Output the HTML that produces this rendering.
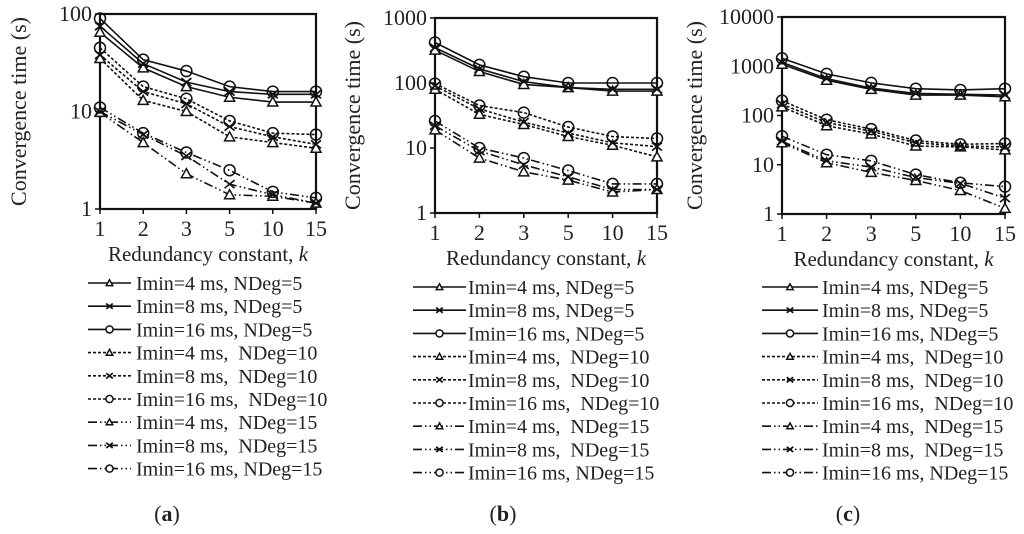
<!DOCTYPE html>
<html><head><meta charset="utf-8"><style>
body{margin:0;background:#fff;width:1024px;height:529px;overflow:hidden}
svg, svg text{font-family:"Liberation Serif","Times New Roman",serif;}
</style></head><body>
<svg id="fig" width="1024" height="529"></svg>
<script>
const categories=["1","2","3","5","10","15"];
const seriesNames=["Imin=4 ms, NDeg=5","Imin=8 ms, NDeg=5","Imin=16 ms, NDeg=5","Imin=4 ms,  NDeg=10","Imin=8 ms,  NDeg=10","Imin=16 ms,  NDeg=10","Imin=4 ms,  NDeg=15","Imin=8 ms,  NDeg=15","Imin=16 ms, NDeg=15"];
const panelA=[[65,28,18,14,12.5,12.5],[75,31,20,16,15,15],[90,34,26,18,16,16],[35,13,10,5.5,4.8,4.2],[38,16,12,7,5.5,4.6],[45,18,13.5,8,6,5.8],[9.8,4.8,2.3,1.4,1.35,1.15],[10,5.8,3.5,1.8,1.4,1.15],[11,6,3.8,2.5,1.5,1.3]];
const panelB=[[320,150,95,85,75,75],[350,165,105,85,80,80],[420,190,125,100,100,100],[80,33,23,15,11,7.3],[90,40,25,17,12,10.5],[98,45,35,21,15,14],[19,7,4.3,3.2,2.1,2.3],[22,9,5.5,3.6,2.3,2.3],[26,10,7,4.5,2.8,2.8]];
const panelC=[[1100,520,340,260,260,240],[1200,560,360,280,270,260],[1450,700,460,350,330,350],[150,62,42,24,23,20],[170,72,48,28,24,23],[200,82,53,31,26,27],[28,11,7,4.8,3,1.3],[30,12,9,5.5,4.2,2.1],[38,16,12,6.3,4.3,3.6]];
const ticksA=["1","10","100"],ticksB=["1","10","100","1000"],ticksC=["1","10","100","1000","10000"];

const NS="http://www.w3.org/2000/svg";
const svg=document.getElementById('fig');
const FF='font-family:"Liberation Serif","Times New Roman",serif;';
function mk(tag,attrs,parent){const e=document.createElementNS(NS,tag);for(const k in attrs)e.setAttribute(k,attrs[k]);(parent||svg).appendChild(e);return e;}
const dashes=["none","3,2","9,3,1.5,3,1.5,3"];
function marker(g,type,x,y,s){
  s=s||1;let m;
  if(type===0){m=mk('polygon',{points:`${x},${y-5*s} ${x-5*s},${y+4*s} ${x+5*s},${y+4*s}`,fill:'#fff',stroke:'#111','stroke-width':1.5},g);}
  else if(type===1){m=mk('path',{d:`M${x-5*s},${y-4*s}L${x+5*s},${y+4*s}M${x-5*s},${y+4*s}L${x+5*s},${y-4*s}`,stroke:'#111','stroke-width':1.7,fill:'none'},g);}
  else {m=mk('circle',{cx:x,cy:y,r:5.5*s,fill:s<1?'#fff':'none',stroke:'#111','stroke-width':1.5},g);}
  
  
}
function txt(g,attrs,content,name,html){
  const t=mk('text',attrs,g);
  t.setAttribute('style',FF+'white-space:pre');
  if(html)t.innerHTML=content;else t.textContent=content;
  
  
  return t;
}
function panel(id,L,R,T,B,ticks,data,legX,lineL,lineR,legY,label,labelX,titleX){
  const g=mk('g',{});
  
  
  const dec=ticks.length-1;
  const yS=v=>B-(Math.log10(v)/dec)*(B-T);
  const xS=i=>L+i*(R-L)/(categories.length-1);
  const box=mk('rect',{x:L,y:T,width:R-L,height:B-T,fill:'none',stroke:'#111','stroke-width':2.2},g);
  
  
  ticks.forEach((t,i)=>{const y=yS(Math.pow(10,i));
    mk('line',{x1:L-5,x2:L,y1:y,y2:y,stroke:'#111','stroke-width':1.5},g);
    txt(g,{x:L-8,y:y+7,'text-anchor':'end','font-size':22,fill:'#222'},t,'y-tick-label');});
  categories.forEach((c,i)=>{const x=xS(i);
    mk('line',{x1:x,x2:x,y1:B,y2:B+5,stroke:'#111','stroke-width':1.5},g);
    txt(g,{x:x,y:B+27,'text-anchor':'middle','font-size':22,fill:'#222'},c,'x-tick-label');});
  txt(g,{x:(L+R)/2,y:B+52,'text-anchor':'middle','font-size':21,fill:'#222'},'Redundancy constant, <tspan font-style="italic">k</tspan>','x-axis-title',true);
  txt(g,{x:0,y:0,'text-anchor':'middle','font-size':22,fill:'#222',transform:`translate(${titleX},${(T+B)/2}) rotate(-90)`},'Convergence time (s)','y-axis-title');
  data.forEach((s,si)=>{
    const pts=s.map((v,i)=>xS(i)+','+yS(v)).join(' ');
    const pl=mk('polyline',{points:pts,fill:'none',stroke:'#111','stroke-width':1.6,'stroke-dasharray':dashes[Math.floor(si/3)]},g);
    
    
    s.forEach((v,i)=>marker(g,si%3,xS(i),yS(v)));
    const ly=legY+si*23.2;
    const ll=mk('line',{x1:lineL,x2:lineR,y1:ly,y2:ly,stroke:'#111','stroke-width':1.6,'stroke-dasharray':dashes[Math.floor(si/3)]},g);
    
    
    marker(g,si%3,(lineL+lineR)/2,ly,0.65);
    txt(g,{x:legX,y:ly+7,'font-size':20,fill:'#222'},seriesNames[si],'legend-entry');
  });
  txt(g,{x:labelX,y:521,'text-anchor':'middle','font-size':22,fill:'#222'},'(<tspan font-weight="bold">'+label+'</tspan>)','panel-label',true);
}
panel('a',100,316,14,209,ticksA,panelA,136,88,131,283,'a',167,26);
panel('b',435,657,18,213,ticksB,panelB,468,413,466,287,'b',503,360);
panel('c',782,1005,17,214,ticksC,panelC,822,762,818,287,'c',848,702);
</script>
</body></html>
